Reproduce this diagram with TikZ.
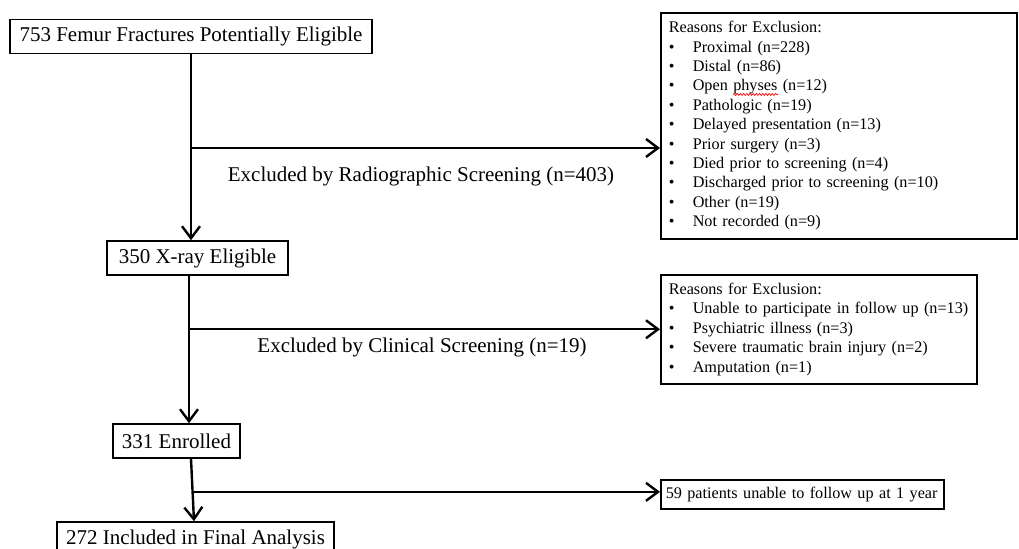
\documentclass[tikz,border=0pt]{standalone}
\usepackage{fontspec}
\setmainfont{Liberation Serif}
\usetikzlibrary{arrows.meta,calc,decorations.pathmorphing}

\newcommand{\bul}{\makebox[12pt][l]{\textbullet}}

\begin{document}
\begin{tikzpicture}[x=0.5pt,y=-0.5pt,
    font=\fontsize{10.5pt}{12pt}\selectfont,
    flowbox/.style={draw,line width=0.8pt,minimum height=17pt,inner sep=0pt},
    listbox/.style={draw,line width=0.8pt,anchor=north west,align=left,
      inner xsep=4pt,inner ysep=0pt,font=\fontsize{8.1pt}{9.7pt}\selectfont},
    arr/.style={line width=1.2pt,-{Straight Barb[length=6pt,width=9pt]}}]
  \useasboundingbox (0,0) rectangle (1019,549);
  \clip (0,0) rectangle (1019,549);

  % main column
  \node[flowbox,minimum width=181pt] (elig) at (191,36.5) {753 Femur Fractures Potentially Eligible};
  \node[flowbox,minimum width=90.5pt] (xray) at (197.5,258) {350 X-ray Eligible};
  \node[flowbox,minimum width=63.5pt] (enrol) at (176.5,441) {331 Enrolled};
  \node[flowbox,minimum width=138.5pt] (final) at (195.5,539) {272 Included in Final Analysis};

  % exclusion boxes
  \node[listbox,text width=170pt,minimum height=113pt] (radio) at (660,12)
    {Reasons for Exclusion:\\
     \bul Proximal (n=228)\\
     \bul Distal (n=86)\\
     \bul Open physes (n=12)\\
     \bul Pathologic (n=19)\\
     \bul Delayed presentation (n=13)\\
     \bul Prior surgery (n=3)\\
     \bul Died prior to screening (n=4)\\
     \bul Discharged prior to screening (n=10)\\
     \bul Other (n=19)\\
     \bul Not recorded (n=9)};
  \node[listbox,text width=150pt,minimum height=54.5pt] (clin) at (660,274)
    {Reasons for Exclusion:\\
     \bul Unable to participate in follow up (n=13)\\
     \bul Psychiatric illness (n=3)\\
     \bul Severe traumatic brain injury (n=2)\\
     \bul Amputation (n=1)};
  \node[listbox,inner xsep=2.5pt,text width=136.5pt,minimum height=14.5pt] (lost) at (660,479)
    {\mbox{59 patients unable to follow up at 1 year}};

  % spell-check squiggle under "physes"
  \draw[red,line width=0.35pt,decorate,decoration={snake,amplitude=0.5pt,segment length=1.6pt}]
    (733,94.5) -- (778,94.5);

  \node (radiolab) at (421,176) {Excluded by Radiographic Screening (n=403)};
  \node (clinlab) at (422,347) {Excluded by Clinical Screening (n=19)};

  % connectors
  \coordinate (j1) at (191,148);
  \draw[arr] (elig.south) -- (elig.south |- xray.north);
  \draw[arr] (j1) -- (j1 -| radio.west);

  \coordinate (s2) at ([xshift=-4.25pt]xray.south);
  \draw[arr] (s2) -- (s2 |- enrol.north);
  \draw[arr] (s2 |- clin.west) -- (clin.west);

  \coordinate (s3) at ([xshift=7.25pt]enrol.south);
  \coordinate (e3) at ([xshift=-0.75pt]final.north);
  \coordinate (j3) at ($(s3)!0.53!(e3)$);
  \draw[arr] (s3) -- (e3);
  \draw[arr] (j3) -- (j3 -| lost.west);
\end{tikzpicture}
\end{document}
